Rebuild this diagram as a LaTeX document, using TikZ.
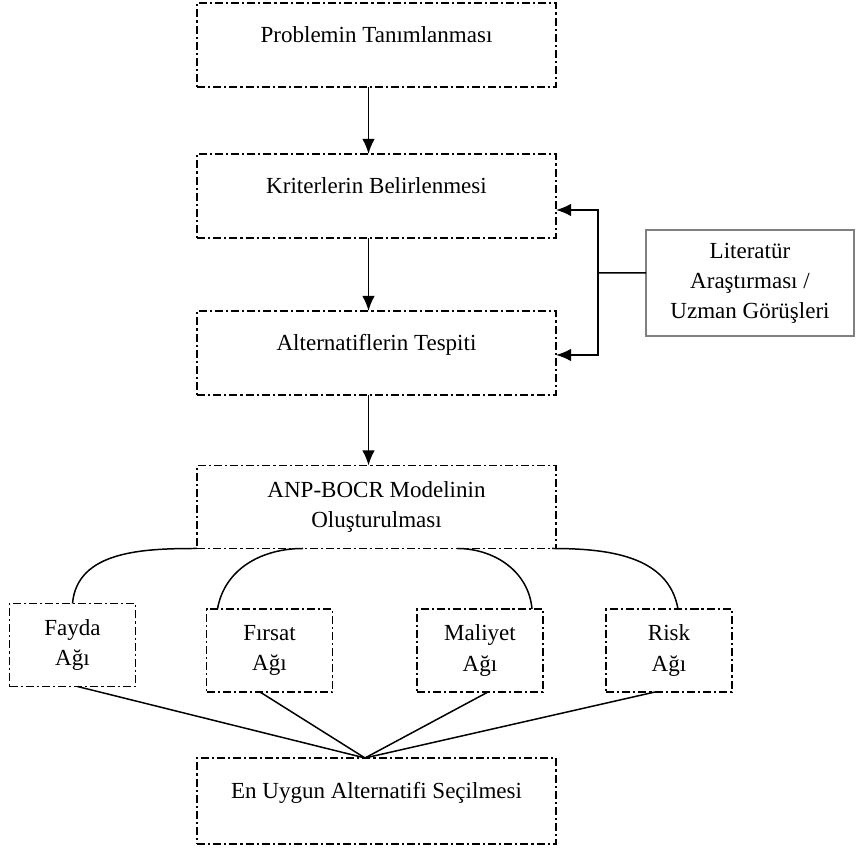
\documentclass[tikz,border=0pt]{standalone}
\usepackage{fontspec}
\setmainfont{Liberation Serif}
\usetikzlibrary{arrows.meta}
\begin{document}
\begin{tikzpicture}[inner sep=0pt,outer sep=0pt,line width=0.85pt,>={Latex[length=3mm,width=2.5mm]},
dashbox/.style={draw,rectangle,line width=0.9pt,dash pattern=on 4.6pt off 1.7pt on 1.2pt off 1.7pt,align=center,font=\fontsize{13.1}{16.6}\selectfont},
stepbox/.style={dashbox,minimum width=7.18cm,minimum height=1.68cm,text height=0.32cm,text depth=0.42cm},
modelbox/.style={dashbox,minimum width=7.18cm,minimum height=1.66cm},
netbox/.style={dashbox,minimum width=2.52cm,minimum height=1.66cm,font=\fontsize{13.1}{17.2}\selectfont},
litbox/.style={draw=gray,rectangle,line width=0.7pt,minimum width=4.16cm,minimum height=2.12cm,align=center,font=\fontsize{13.1}{17}\selectfont}]
\useasboundingbox (0,0) rectangle (17.12,16.98);

\draw (7.53,16.08) node[stepbox] (Prob) {Problemin Tanımlanması};
\draw (7.53,13.06) node[stepbox] (Krit) {Kriterlerin Belirlenmesi};
\draw (7.53,9.92) node[stepbox] (Alt) {Alternatiflerin Tespiti};
\draw (7.53,6.84) node[modelbox] (Model) {ANP-BOCR Modelinin\\Oluşturulması};
\draw (15.0,11.32) node[litbox] (Lit) {Literatür\\Araştırması /\\Uzman Görüşleri};

\draw[->,line width=1pt] ([xshift=-0.16cm]Prob.south) -- ([xshift=-0.16cm]Krit.north);
\draw[->,line width=1pt] ([xshift=-0.16cm]Krit.south) -- ([xshift=-0.16cm]Alt.north);
\draw[->,line width=1pt] ([xshift=-0.16cm]Alt.south) -- ([xshift=-0.16cm]Model.north);

% literatur kolu
\coordinate (split) at (11.96,11.52);
\draw ([yshift=0.2cm]Lit.west) -- (split);
\draw[->,line width=1pt] (split) |- ([yshift=-0.28cm]Krit.east);
\draw[->,line width=1pt] (split) |- ([yshift=-0.04cm]Alt.east);

% BOCR aglari
\draw (1.45,4.08) node[netbox] (Fay) {Fayda\\Ağı};
\draw (5.39,3.97) node[netbox] (Fir) {Fırsat\\Ağı};
\draw (9.60,3.97) node[netbox] (Mal) {Maliyet\\Ağı};
\draw (13.38,3.97) node[netbox] (Risk) {Risk\\Ağı};

\draw (Model.south west) to[out=180,in=85] (Fay.north);
\draw ([xshift=2.12cm]Model.south west) to[out=180,in=80] ([xshift=0.22cm]Fir.north west);
\draw ([xshift=5.2cm]Model.south west) to[out=0,in=95] ([xshift=-0.22cm]Mal.north east);
\draw ([xshift=-0.08cm]Model.south east) to[out=0,in=100] ([xshift=0.18cm]Risk.north);

\draw (7.53,0.96) node[stepbox,minimum height=1.72cm] (Sec) {En Uygun Alternatifi Seçilmesi};
\coordinate (join) at ([xshift=-0.23cm]Sec.north);
\draw ([xshift=0.1cm]Fay.south) -- (join);
\draw ([xshift=-0.19cm]Fir.south) -- (join);
\draw ([xshift=0.16cm]Mal.south) -- (join);
\draw ([xshift=-0.28cm]Risk.south) -- (join);
\end{tikzpicture}
\end{document}
